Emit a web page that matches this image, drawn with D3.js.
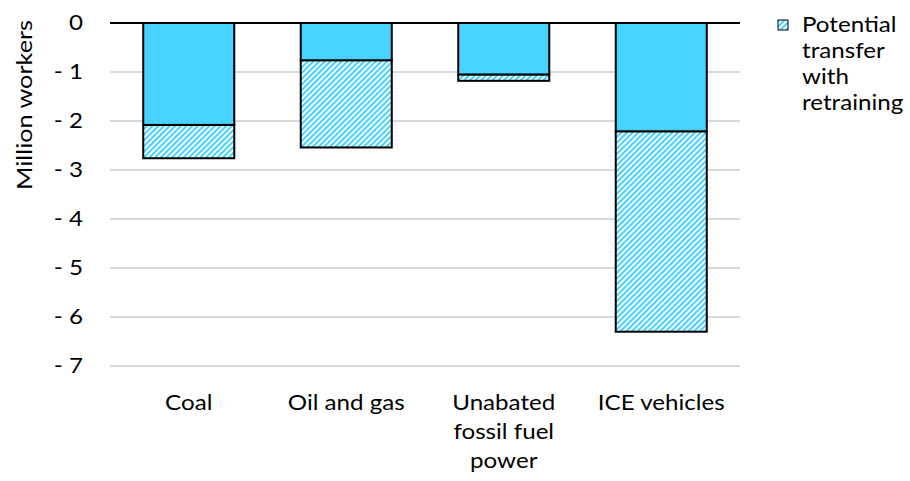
<!DOCTYPE html>
<html><head><meta charset="utf-8">
<script src="https://cdn.jsdelivr.net/npm/d3@7"></script>
<style>
html,body{margin:0;padding:0;background:#fff;}
text{font-family:Lato,"Noto Sans",sans-serif;fill:#000;}
</style></head>
<body><svg id="c" width="910" height="481"></svg>
<script>
const categories = ["Coal", "Oil and gas", "Unabated fossil fuel power", "ICE vehicles"];
const categoryLines = [["Coal"], ["Oil and gas"], ["Unabated", "fossil fuel", "power"], ["ICE vehicles"]];
const lostJobs = [-2.08, -0.76, -1.05, -2.21];
const transferJobs = [-0.68, -1.78, -0.13, -4.09];
const yTicks = [0, -1, -2, -3, -4, -5, -6, -7];
const legendLines = ["Potential", "transfer", "with", "retraining"];
const yTitle = "Million workers";

const FILL = "#48D2FF";
const svg = d3.select("#c");
const fs = 21;
const SX = 1.15;

const defs = svg.append("defs");
const pat = defs.append("pattern").attr("id", "hatch")
  .attr("patternUnits", "userSpaceOnUse").attr("width", 4).attr("height", 4)
  .attr("patternTransform", "rotate(45)");
pat.append("rect").attr("width", 4).attr("height", 4).attr("fill", "#fff");
pat.append("rect").attr("width", 2.1).attr("height", 4).attr("fill", FILL);

const x = d3.scaleBand().domain(categories).range([110, 740]).paddingInner(0.422).paddingOuter(0.211);
const y = d3.scaleLinear().domain([0, -7]).range([23, 366]);

// gridlines
svg.append("g").selectAll("line").data(yTicks.filter(d => d !== 0)).join("line")
  .attr("x1", 110).attr("x2", 740).attr("y1", d => y(d)).attr("y2", d => y(d))
  .attr("stroke", "#D9D9D9").attr("stroke-width", 2);

// y axis labels
const yAxis = d3.axisLeft(y).tickValues(yTicks).tickSize(0).tickPadding(0)
  .tickFormat(d => d === 0 ? "0" : "- " + Math.abs(d));
const ya = svg.append("g").attr("transform", "translate(83,0)").call(yAxis);
ya.select(".domain").remove();
ya.selectAll("text").style("font-size", fs + "px").style("font-family", "Lato")
  .attr("fill", "#000").attr("transform", `scale(${SX},1)`);

// bars
const data = categories.map((c, i) => ({c, a: lostJobs[i], b: transferJobs[i]}));
const g = svg.append("g");
g.selectAll("rect.t").data(data).join("rect").attr("class", "t")
  .attr("x", d => x(d.c)).attr("width", x.bandwidth())
  .attr("y", d => y(d.a)).attr("height", d => y(d.a + d.b) - y(d.a))
  .attr("fill", "url(#hatch)").attr("stroke", "#000").attr("stroke-width", 2);
g.selectAll("rect.s").data(data).join("rect").attr("class", "s")
  .attr("x", d => x(d.c)).attr("width", x.bandwidth())
  .attr("y", y(0)).attr("height", d => y(d.a) - y(0))
  .attr("fill", FILL).attr("stroke", "#000").attr("stroke-width", 2);

// zero line
svg.append("line").attr("x1", 110).attr("x2", 740).attr("y1", y(0)).attr("y2", y(0))
  .attr("stroke", "#000").attr("stroke-width", 2);

// category labels
const cl = svg.append("g");
categories.forEach((c, i) => {
  const cx = x(c) + x.bandwidth() / 2;
  const t = cl.append("text").attr("text-anchor", "middle").style("font-size", fs + "px")
    .attr("transform", `translate(${cx},410) scale(${SX},1)`);
  categoryLines[i].forEach((ln, j) => {
    t.append("tspan").attr("x", 0).attr("y", j * 29).text(ln);
  });
});

// y title
svg.append("text").attr("transform", `translate(32,105) rotate(-90) scale(${SX + 0.05},1)`)
  .attr("text-anchor", "middle").style("font-size", fs + "px").text(yTitle);

// legend
svg.append("rect").attr("x", 778).attr("y", 20).attr("width", 10).attr("height", 10)
  .attr("fill", "url(#hatch)").attr("stroke", "#000").attr("stroke-width", 1);
const lt = svg.append("text").style("font-size", fs + "px")
  .attr("transform", `translate(802,32) scale(${SX},1)`);
legendLines.forEach((ln, j) => {
  lt.append("tspan").attr("x", 0).attr("y", j * 26).text(ln);
});
</script></body></html>
